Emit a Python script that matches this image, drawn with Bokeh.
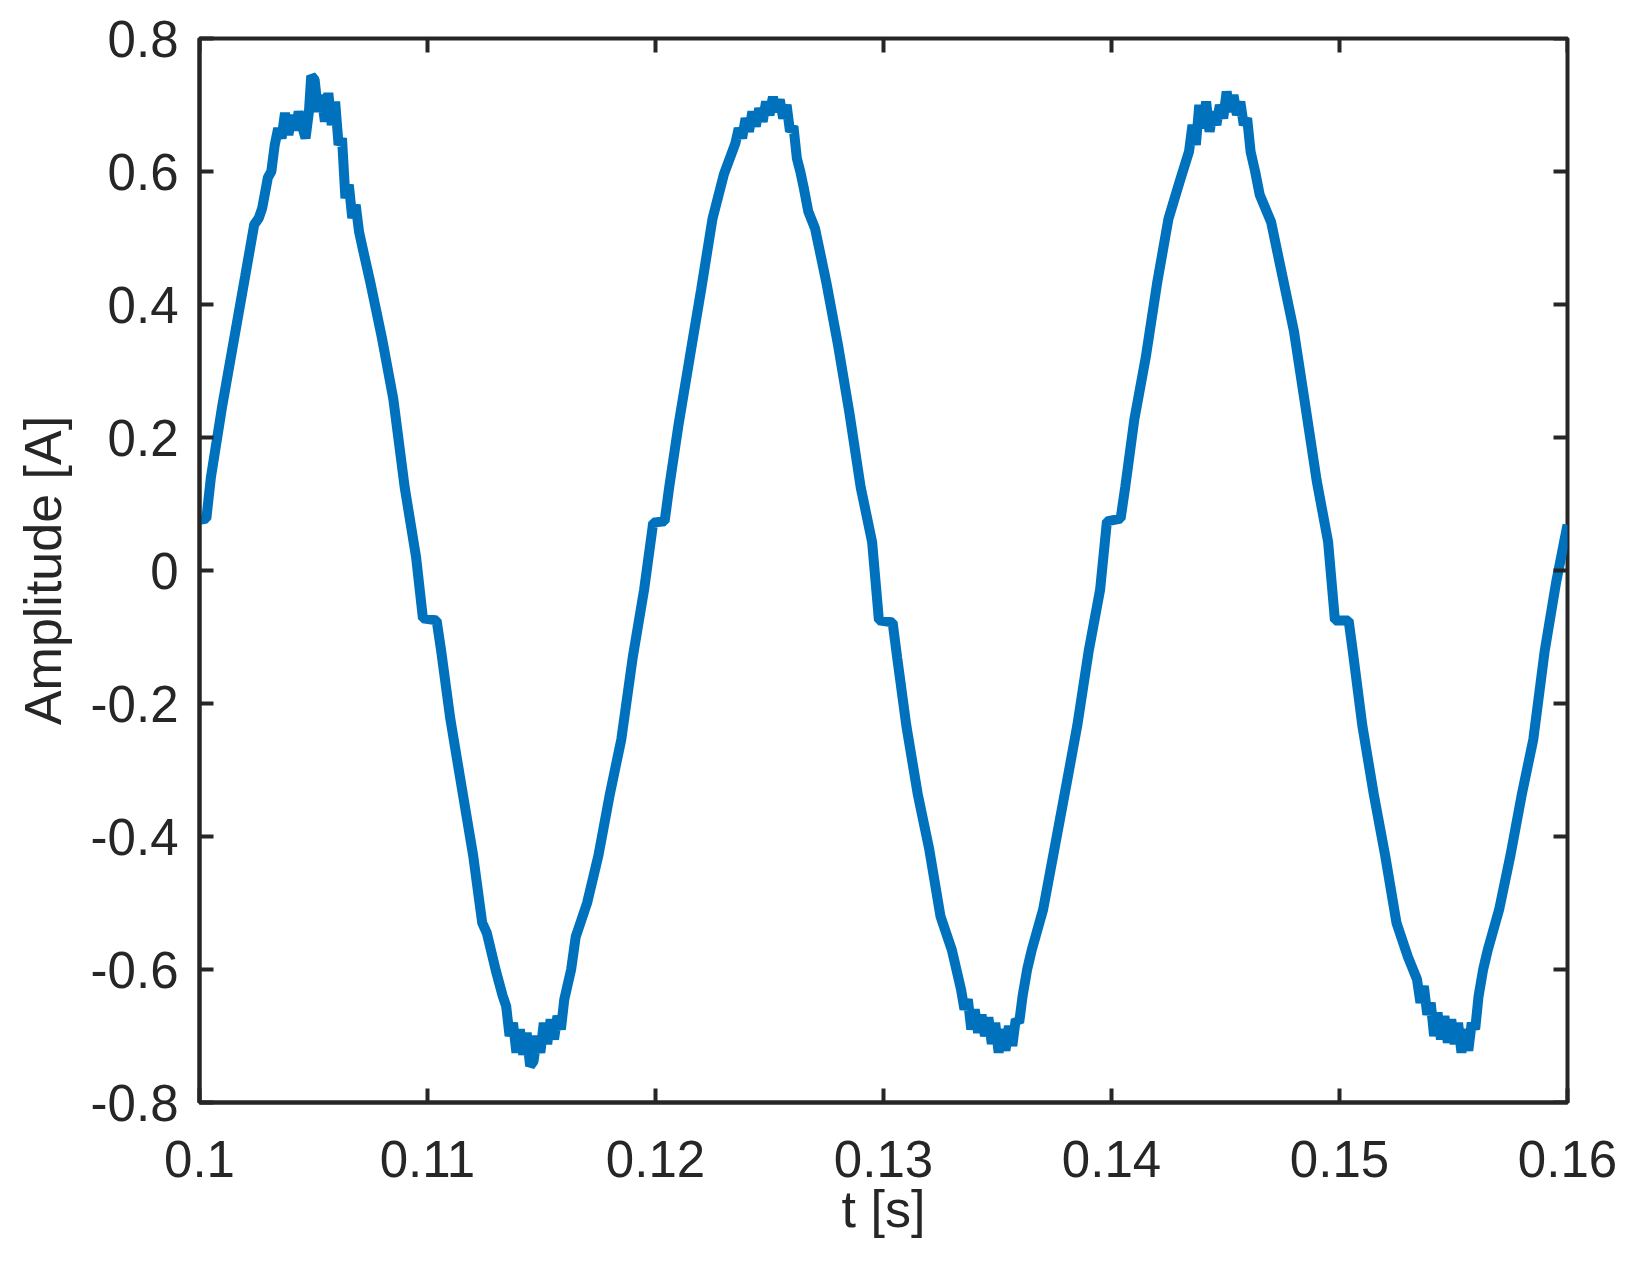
import math
from bokeh.plotting import figure
from bokeh.models import Range1d, FixedTicker
from bokeh.embed import file_html
from bokeh.resources import INLINE

# time [s]
t_s = [
    0.1000, 0.1003, 0.1005, 0.1010, 0.1015, 0.1020, 0.1024, 0.1026, 0.10275, 0.1030, 0.10315,
    0.1033, 0.10345, 0.1036, 0.10375, 0.1039, 0.10405, 0.1042, 0.10435, 0.1045, 0.10465,
    0.1048, 0.1049, 0.10505, 0.1052, 0.10535, 0.1055, 0.10565, 0.1058, 0.10595, 0.1061,
    0.10625, 0.1064, 0.10655, 0.1067, 0.10685, 0.1070, 0.10725, 0.1075, 0.1080, 0.1085,
    0.1090, 0.1095, 0.1098, 0.1104,
    0.1106, 0.1110, 0.1115, 0.1120, 0.1124, 0.1126, 0.1130, 0.1133,
    0.11345, 0.1136, 0.11375, 0.1139, 0.11405, 0.1142, 0.11435, 0.1145, 0.11465, 0.1148,
    0.11495, 0.1151, 0.11525, 0.1154, 0.11555, 0.1157, 0.11585, 0.1160, 0.1163, 0.1165,
    0.1170, 0.1175, 0.1180, 0.1185, 0.1190, 0.1195, 0.1199, 0.1204,
    0.1206, 0.1210, 0.1215, 0.1220, 0.1225, 0.1230,
    0.1235, 0.12365, 0.1238, 0.12395, 0.1241, 0.12425, 0.1244, 0.12455, 0.1247, 0.12485,
    0.1250, 0.12515, 0.1253, 0.12545, 0.1256, 0.12575, 0.1259, 0.12605, 0.1262, 0.12635,
    0.1265, 0.1267, 0.1270, 0.1275, 0.1280, 0.1285, 0.1290, 0.1295, 0.1298, 0.1304,
    0.1306, 0.1310, 0.1315, 0.1320, 0.1325, 0.1330,
    0.1334, 0.13355, 0.1337, 0.13385, 0.1340, 0.13415, 0.1343, 0.13445, 0.1346, 0.13475,
    0.1349, 0.13505, 0.1352, 0.13535, 0.1355, 0.13565, 0.1358, 0.13595, 0.1361, 0.1363,
    0.1365, 0.1370, 0.1375, 0.1380, 0.1385, 0.1390, 0.1395, 0.1398, 0.1404,
    0.1406, 0.1410, 0.1415, 0.1420, 0.1425, 0.1430,
    0.1434, 0.14355, 0.1437, 0.14385, 0.1440, 0.14415, 0.1443, 0.14445, 0.1446, 0.14475,
    0.1449, 0.14505, 0.1452, 0.14535, 0.1455, 0.14565, 0.1458, 0.14595, 0.1461, 0.1463,
    0.1465, 0.1470, 0.1475, 0.1480, 0.1485, 0.1490, 0.1495, 0.1498, 0.1504,
    0.1506, 0.1510, 0.1515, 0.1520, 0.1525, 0.1530,
    0.1534, 0.15355, 0.1537, 0.15385, 0.1540, 0.15415, 0.1543, 0.15445, 0.1546, 0.15475,
    0.1549, 0.15505, 0.1552, 0.15535, 0.1555, 0.15565, 0.1558, 0.15595, 0.1561, 0.1563,
    0.1565, 0.1570, 0.1575, 0.1580, 0.1585, 0.1590, 0.1595, 0.1600,
]

# amplitude [A]
amp_a = [
    0.076, 0.078, 0.140, 0.248, 0.345, 0.442, 0.520, 0.530, 0.545, 0.591, 0.600,
    0.640, 0.665, 0.650, 0.688, 0.655, 0.685, 0.662, 0.690, 0.668, 0.650,
    0.690, 0.744, 0.738, 0.690, 0.715, 0.675, 0.718, 0.670, 0.705, 0.640,
    0.650, 0.560, 0.580, 0.530, 0.550, 0.509, 0.470, 0.432, 0.350, 0.258,
    0.125, 0.020, -0.072, -0.075,
    -0.121, -0.223, -0.326, -0.428, -0.530, -0.545, -0.602, -0.640,
    -0.655, -0.700, -0.680, -0.725, -0.690, -0.728, -0.695, -0.745, -0.738, -0.700,
    -0.725, -0.680, -0.712, -0.675, -0.705, -0.670, -0.690, -0.645, -0.600, -0.551,
    -0.500, -0.428, -0.336, -0.254, -0.131, -0.029, 0.072, 0.074,
    0.125, 0.217, 0.320, 0.422, 0.529, 0.596,
    0.642, 0.665, 0.650, 0.680, 0.660, 0.690, 0.668, 0.695, 0.675, 0.705,
    0.685, 0.712, 0.690, 0.708, 0.680, 0.700, 0.660, 0.668, 0.620, 0.600,
    0.576, 0.540, 0.514, 0.432, 0.340, 0.238, 0.125, 0.043, -0.075, -0.078,
    -0.131, -0.233, -0.336, -0.418, -0.520, -0.571,
    -0.630, -0.660, -0.645, -0.690, -0.660, -0.695, -0.668, -0.700, -0.672, -0.712,
    -0.680, -0.725, -0.690, -0.722, -0.685, -0.715, -0.675, -0.680, -0.640, -0.600,
    -0.571, -0.510, -0.418, -0.326, -0.233, -0.121, -0.029, 0.074, 0.078,
    0.125, 0.227, 0.320, 0.432, 0.529, 0.586,
    0.630, 0.670, 0.640, 0.700, 0.665, 0.705, 0.660, 0.690, 0.670, 0.700,
    0.680, 0.720, 0.690, 0.715, 0.685, 0.705, 0.670, 0.680, 0.630, 0.600,
    0.565, 0.524, 0.442, 0.360, 0.248, 0.135, 0.043, -0.075, -0.075,
    -0.126, -0.233, -0.336, -0.428, -0.530, -0.581,
    -0.615, -0.650, -0.625, -0.668, -0.650, -0.700, -0.665, -0.705, -0.670, -0.710,
    -0.675, -0.712, -0.680, -0.725, -0.690, -0.722, -0.680, -0.690, -0.640, -0.600,
    -0.571, -0.510, -0.428, -0.336, -0.254, -0.121, -0.018, 0.069,
]

x_ticks = [0.10, 0.11, 0.12, 0.13, 0.14, 0.15, 0.16]
x_tick_labels = ["0.1", "0.11", "0.12", "0.13", "0.14", "0.15", "0.16"]
y_ticks = [-0.8, -0.6, -0.4, -0.2, 0.0, 0.2, 0.4, 0.6, 0.8]
y_tick_labels = ["-0.8", "-0.6", "-0.4", "-0.2", "0", "0.2", "0.4", "0.6", "0.8"]

FONT = "Liberation Sans"
INK = "#262626"
X0, X1, Y0, Y1 = 0.1, 0.16, -0.8, 0.8

p = figure(width=1618, height=1270, output_backend="svg", toolbar_location=None,
           x_range=Range1d(X0, X1), y_range=Range1d(Y0, Y1),
           min_border_left=199, min_border_right=51, min_border_top=38,
           min_border_bottom=168)
p.outline_line_color = INK
p.outline_line_width = 4
p.xgrid.visible = False
p.ygrid.visible = False
p.background_fill_color = "white"
p.border_fill_color = "white"

p.line(t_s, amp_a, line_color="#0072BD", line_width=10)

# mirrored tick marks on the top and right edges (inside)
p.ray(x=x_ticks, y=[Y1] * len(x_ticks), length=14, length_units="screen",
      angle=-math.pi / 2, line_color=INK, line_width=4)
p.ray(x=[X1] * len(y_ticks), y=y_ticks, length=14, length_units="screen",
      angle=math.pi, line_color=INK, line_width=4)

xa = p.below[0]
ya = p.left[0]
xa.ticker = FixedTicker(ticks=x_ticks, minor_ticks=[])
ya.ticker = FixedTicker(ticks=y_ticks, minor_ticks=[])

for ax in (xa, ya):
    ax.axis_line_color = INK
    ax.axis_line_width = 4
    ax.major_tick_line_color = INK
    ax.major_tick_line_width = 4
    ax.major_tick_in = 14
    ax.major_tick_out = 0
    ax.minor_tick_line_color = None
    ax.major_label_text_font = FONT
    ax.major_label_text_color = INK
    ax.major_label_text_font_size = "51px"
    ax.axis_label_text_font = FONT
    ax.axis_label_text_color = INK
    ax.axis_label_text_font_style = "normal"
    ax.axis_label_text_font_size = "52px"

xa.major_label_overrides = {v: s for v, s in zip(x_ticks, x_tick_labels)}
xa.major_label_standoff = 38
xa.axis_label = "t [s]"
xa.axis_label_standoff = 0

ya.major_label_overrides = {v: s for v, s in zip(y_ticks, y_tick_labels)}
ya.major_label_standoff = 21
ya.axis_label = "Amplitude [A]"
ya.axis_label_standoff = 16

open("out.html", "w").write(file_html(p, INLINE))
